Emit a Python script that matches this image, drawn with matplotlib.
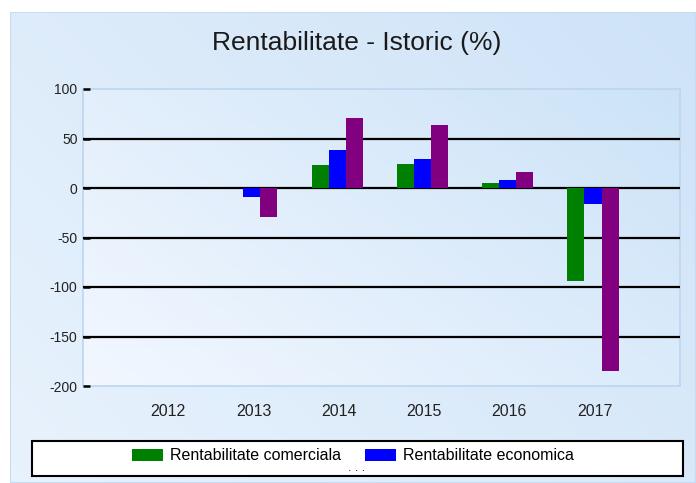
import matplotlib
matplotlib.use("Agg")
import matplotlib.pyplot as plt
import numpy as np
from matplotlib.patches import Rectangle, Patch

plt.rcParams['font.family'] = ['Liberation Sans', 'DejaVu Sans']

years = ['2012', '2013', '2014', '2015', '2016', '2017']
comerciala = [0, 0, 23, 24, 5, -94]
economica = [0, -9, 38, 29, 8, -16.5]
financiara = [0, -29, 71, 64, 16, -184.5]
series_names = ['Rentabilitate comerciala', 'Rentabilitate economica', 'Rentabilitate financiara']
colors = ['#008000', '#0000ff', '#800080']
yticks = [100, 50, 0, -50, -100, -150, -200]
title = 'Rentabilitate - Istoric (%)'

W, H = 696, 483
fig = plt.figure(figsize=(W / 100, H / 100), dpi=100)
fig.patch.set_facecolor('white')

# outer panel background
bg = fig.add_axes([10 / W, 0, (W - 10) / W, (H - 12) / H], zorder=-5)
gx, gy = np.meshgrid(np.linspace(0, 1, 200), np.linspace(0, 1, 200))
g = 0.6 * gx + 0.4 * gy
c0 = np.array([0.91, 0.95, 0.99])
c1 = np.array([0.81, 0.89, 0.97])
img = c0[None, None, :] * (1 - g[..., None]) + c1[None, None, :] * g[..., None]
bg.imshow(img, origin='lower', aspect='auto', extent=[0, 1, 0, 1])
bg.add_patch(Rectangle((0, 0), 1, 1, fill=False, edgecolor='#c5dcf2', lw=1.5, transform=bg.transAxes))
bg.set_axis_off()

# main axes
left, right, top, bottom = 83, 680, 89, 386
ax = fig.add_axes([left / W, 1 - bottom / H, (right - left) / W, (bottom - top) / H])
x = np.arange(len(years))
ax.set_xlim(-1, len(years))
ax.set_ylim(-200, 100)

c0p = np.array([0.95, 0.97, 1.0])
pimg = c0p[None, None, :] * (1 - g[..., None]) + np.array([0.80, 0.89, 0.97])[None, None, :] * g[..., None]
ax.imshow(pimg, origin='lower', aspect='auto', extent=[-1, len(years), -200, 100], zorder=0)

for yv in [50, 0, -50, -100, -150]:
    ax.axhline(yv, color='black', lw=1.6, zorder=1)

bw = 0.2
for i, (vals, col) in enumerate(zip([comerciala, economica, financiara], colors)):
    ax.bar(x + (i - 1) * bw - 0.02, vals, width=bw, color=col, zorder=2, linewidth=0)

for s in ax.spines.values():
    s.set_color('#bcd6ef')
    s.set_linewidth(1.2)
    s.set_zorder(0.5)

ax.set_yticks(yticks)
ax.set_yticklabels([str(v) for v in yticks], fontsize=10, color='#222222')
ax.tick_params(axis='y', direction='in', length=5, width=1.8, color='black', pad=4)
ax.set_xticks(x)
ax.set_xticklabels(years, fontsize=11.5, color='#222222')
ax.tick_params(axis='x', length=0, pad=13)

fig.text(357 / W, 1 - 43 / H, title, ha='center', va='center', fontsize=19, color='#1a1a1a')

# legend box
fig.patches.append(Rectangle((32 / W, 1 - 476 / H), (683 - 32) / W, 35 / H, transform=fig.transFigure,
                             facecolor='white', edgecolor='black', lw=1.5, zorder=3))
handles = [Patch(facecolor=colors[0]), Patch(facecolor=colors[1])]
leg = fig.legend(handles, series_names[:2], loc='center', bbox_to_anchor=(353 / W, 1 - 456 / H),
                 ncol=2, frameon=False, fontsize=11.5, handlelength=1.95, handleheight=0.87,
                 handletextpad=0.45, columnspacing=1.5)
leg.set_zorder(4)
fig.text(357 / W, 1 - 468 / H, '. . .', ha='center', va='center', fontsize=9, color='#222222', zorder=5)

fig.savefig('out.png', dpi=100)
